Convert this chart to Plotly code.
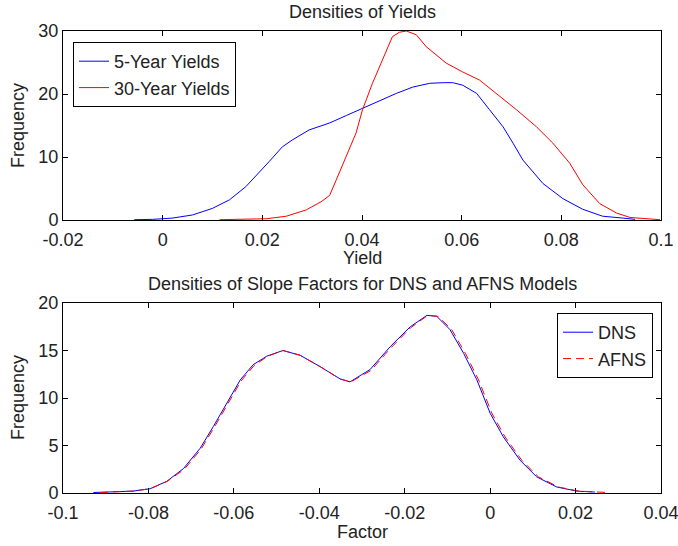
import plotly.graph_objects as go

# ---- Top panel data: densities of yields ----
yield5_x = [-0.0057, -0.002, 0.0019, 0.006, 0.010, 0.0134, 0.0167, 0.0194, 0.0214, 0.024, 0.026,
            0.0294, 0.0335, 0.0369, 0.0408, 0.0469, 0.0502, 0.0536, 0.0565, 0.0582, 0.0602, 0.063,
            0.0656, 0.0683, 0.0703, 0.0723, 0.0763, 0.0803, 0.0843, 0.0883, 0.0924, 0.0948]
yield5_y = [0.05, 0.1, 0.3, 0.8, 1.85, 3.2, 5.3, 7.7, 9.3, 11.6, 12.7,
            14.3, 15.4, 16.6, 18.0, 20.1, 21.1, 21.7, 21.8, 21.8, 21.4, 20.1,
            17.5, 14.8, 12.2, 9.5, 5.8, 3.4, 1.7, 0.6, 0.3, 0.1]

yield30_x = [0.0114, 0.0208, 0.0248, 0.0288, 0.0318, 0.0335, 0.0348, 0.0368, 0.0388, 0.0401,
             0.0421, 0.0441, 0.0461, 0.0475, 0.0489, 0.0509, 0.0529, 0.0569, 0.0602, 0.0636,
             0.067, 0.071, 0.075, 0.0783, 0.0817, 0.0843, 0.0877, 0.0911, 0.0938, 0.0998]
yield30_y = [0.05, 0.2, 0.6, 1.6, 2.9, 3.9, 6.3, 10.0, 13.8, 17.5,
             21.7, 25.4, 29.1, 29.8, 30.0, 29.4, 27.5, 24.9, 23.5, 22.2,
             20.1, 17.5, 14.8, 12.2, 9.0, 5.6, 2.6, 1.1, 0.4, 0.05]

# ---- Bottom panel data: densities of slope factors ----
dns_x = [-0.0929, -0.0836, -0.0796, -0.0757, -0.0718, -0.0679, -0.0648, -0.0617, -0.0585, -0.0555,
         -0.0523, -0.0485, -0.0445, -0.0398, -0.0351, -0.0328, -0.0281, -0.0234, -0.0187, -0.0148,
         -0.0125, -0.0094, -0.0062, -0.0031, 0.0, 0.0031, 0.007, 0.0109, 0.0156, 0.0203, 0.0245]
dns_y = [0.05, 0.2, 0.45, 1.23, 2.57, 4.7, 7.0, 9.4, 11.9, 13.5,
         14.4, 15.0, 14.5, 13.3, 12.0, 11.7, 13.0, 15.4, 17.5, 18.7,
         18.6, 17.2, 14.7, 11.9, 8.4, 5.9, 3.45, 1.7, 0.63, 0.2, 0.1]

afns_x = [-0.0913, -0.0836, -0.0796, -0.0757, -0.0716, -0.0677, -0.0646, -0.0615, -0.0583, -0.0553,
          -0.0521, -0.0485, -0.0445, -0.0398, -0.0351, -0.0326, -0.0279, -0.0232, -0.0186, -0.0146,
          -0.0122, -0.0090, -0.0058, -0.0027, 0.0004, 0.0035, 0.0074, 0.0113, 0.0160, 0.0207, 0.0276]
afns_y = [0.05, 0.2, 0.45, 1.2, 2.5, 4.6, 6.9, 9.3, 11.8, 13.4,
          14.4, 15.0, 14.5, 13.3, 12.0, 11.7, 12.9, 15.3, 17.4, 18.7,
          18.6, 17.2, 14.7, 11.9, 8.4, 5.9, 3.45, 1.7, 0.63, 0.2, 0.05]

# ---- Tick labels ----
top_xticks = [-0.02, 0, 0.02, 0.04, 0.06, 0.08, 0.1]
top_xlabels = ["-0.02", "0", "0.02", "0.04", "0.06", "0.08", "0.1"]
top_yticks = [0, 10, 20, 30]
bot_xticks = [-0.1, -0.08, -0.06, -0.04, -0.02, 0, 0.02, 0.04]
bot_xlabels = ["-0.1", "-0.08", "-0.06", "-0.04", "-0.02", "0", "0.02", "0.04"]
bot_yticks = [0, 5, 10, 15, 20]

FONT = "Liberation Sans, Arial, sans-serif"
FS = 18
W, H = 678, 546
TXT = "#222222"

fig = go.Figure()
fig.add_trace(go.Scatter(x=yield5_x, y=yield5_y, mode="lines", name="5-Year Yields",
                         line=dict(color="#0000ff", width=1), xaxis="x", yaxis="y", legend="legend"))
fig.add_trace(go.Scatter(x=yield30_x, y=yield30_y, mode="lines", name="30-Year Yields",
                         line=dict(color="#ff0000", width=1), xaxis="x", yaxis="y", legend="legend"))
fig.add_trace(go.Scatter(x=dns_x, y=dns_y, mode="lines", name="DNS",
                         line=dict(color="#0000ff", width=1), xaxis="x2", yaxis="y2", legend="legend2"))
fig.add_trace(go.Scatter(x=afns_x, y=afns_y, mode="lines", name="AFNS",
                         line=dict(color="#ff0000", width=1, dash="8px,5px"), xaxis="x2", yaxis="y2",
                         legend="legend2"))

xd = [63 / W, 661 / W]
top_y = [1 - 220 / H, 1 - 31 / H]
bot_y = [1 - 493 / H, 1 - 303 / H]

common = dict(showline=True, linecolor="black", linewidth=1, mirror="ticks", ticks="inside",
              ticklen=5, tickcolor="black", showgrid=False, zeroline=False, automargin=False,
              ticklabeloverflow="allow",
              tickfont=dict(family=FONT, size=FS, color=TXT))


def ann(text, x, y, angle=0):
    return dict(text=text, x=x / W, y=1 - y / H, xref="paper", yref="paper", showarrow=False,
                xanchor="center", yanchor="middle", textangle=angle,
                font=dict(family=FONT, size=FS, color=TXT))


fig.update_layout(
    width=W, height=H, margin=dict(l=0, r=0, t=0, b=0, autoexpand=False),
    paper_bgcolor="white", plot_bgcolor="white",
    font=dict(family=FONT, size=FS, color=TXT),
    xaxis=dict(domain=xd, anchor="y", range=[-0.02, 0.1], tickvals=top_xticks, ticktext=top_xlabels,
               ticklabelstandoff=3, **common),
    yaxis=dict(domain=top_y, anchor="x", range=[0, 30], tickvals=top_yticks, **common),
    xaxis2=dict(domain=xd, anchor="y2", range=[-0.1, 0.04], tickvals=bot_xticks, ticktext=bot_xlabels,
                ticklabelstandoff=3, **common),
    yaxis2=dict(domain=bot_y, anchor="x2", range=[0, 20], tickvals=bot_yticks, **common),
    legend=dict(x=73 / W, y=1 - 42 / H, xanchor="left", yanchor="top", bgcolor="white",
                bordercolor="black", borderwidth=1, font=dict(family=FONT, size=FS, color=TXT),
                tracegroupgap=0),
    legend2=dict(x=653 / W, y=1 - 313 / H, xanchor="right", yanchor="top", bgcolor="white",
                 bordercolor="black", borderwidth=1, font=dict(family=FONT, size=FS, color=TXT),
                 tracegroupgap=0),
    annotations=[
        ann("Densities of Yields", 362, 12),
        ann("Densities of Slope Factors for DNS and AFNS Models", 362, 284),
        ann("Yield", 362, 258),
        ann("Factor", 362, 532),
        ann("Frequency", 18, 126, -90),
        ann("Frequency", 18, 398, -90),
    ],
    showlegend=True,
)

fig.write_html("out.html")
